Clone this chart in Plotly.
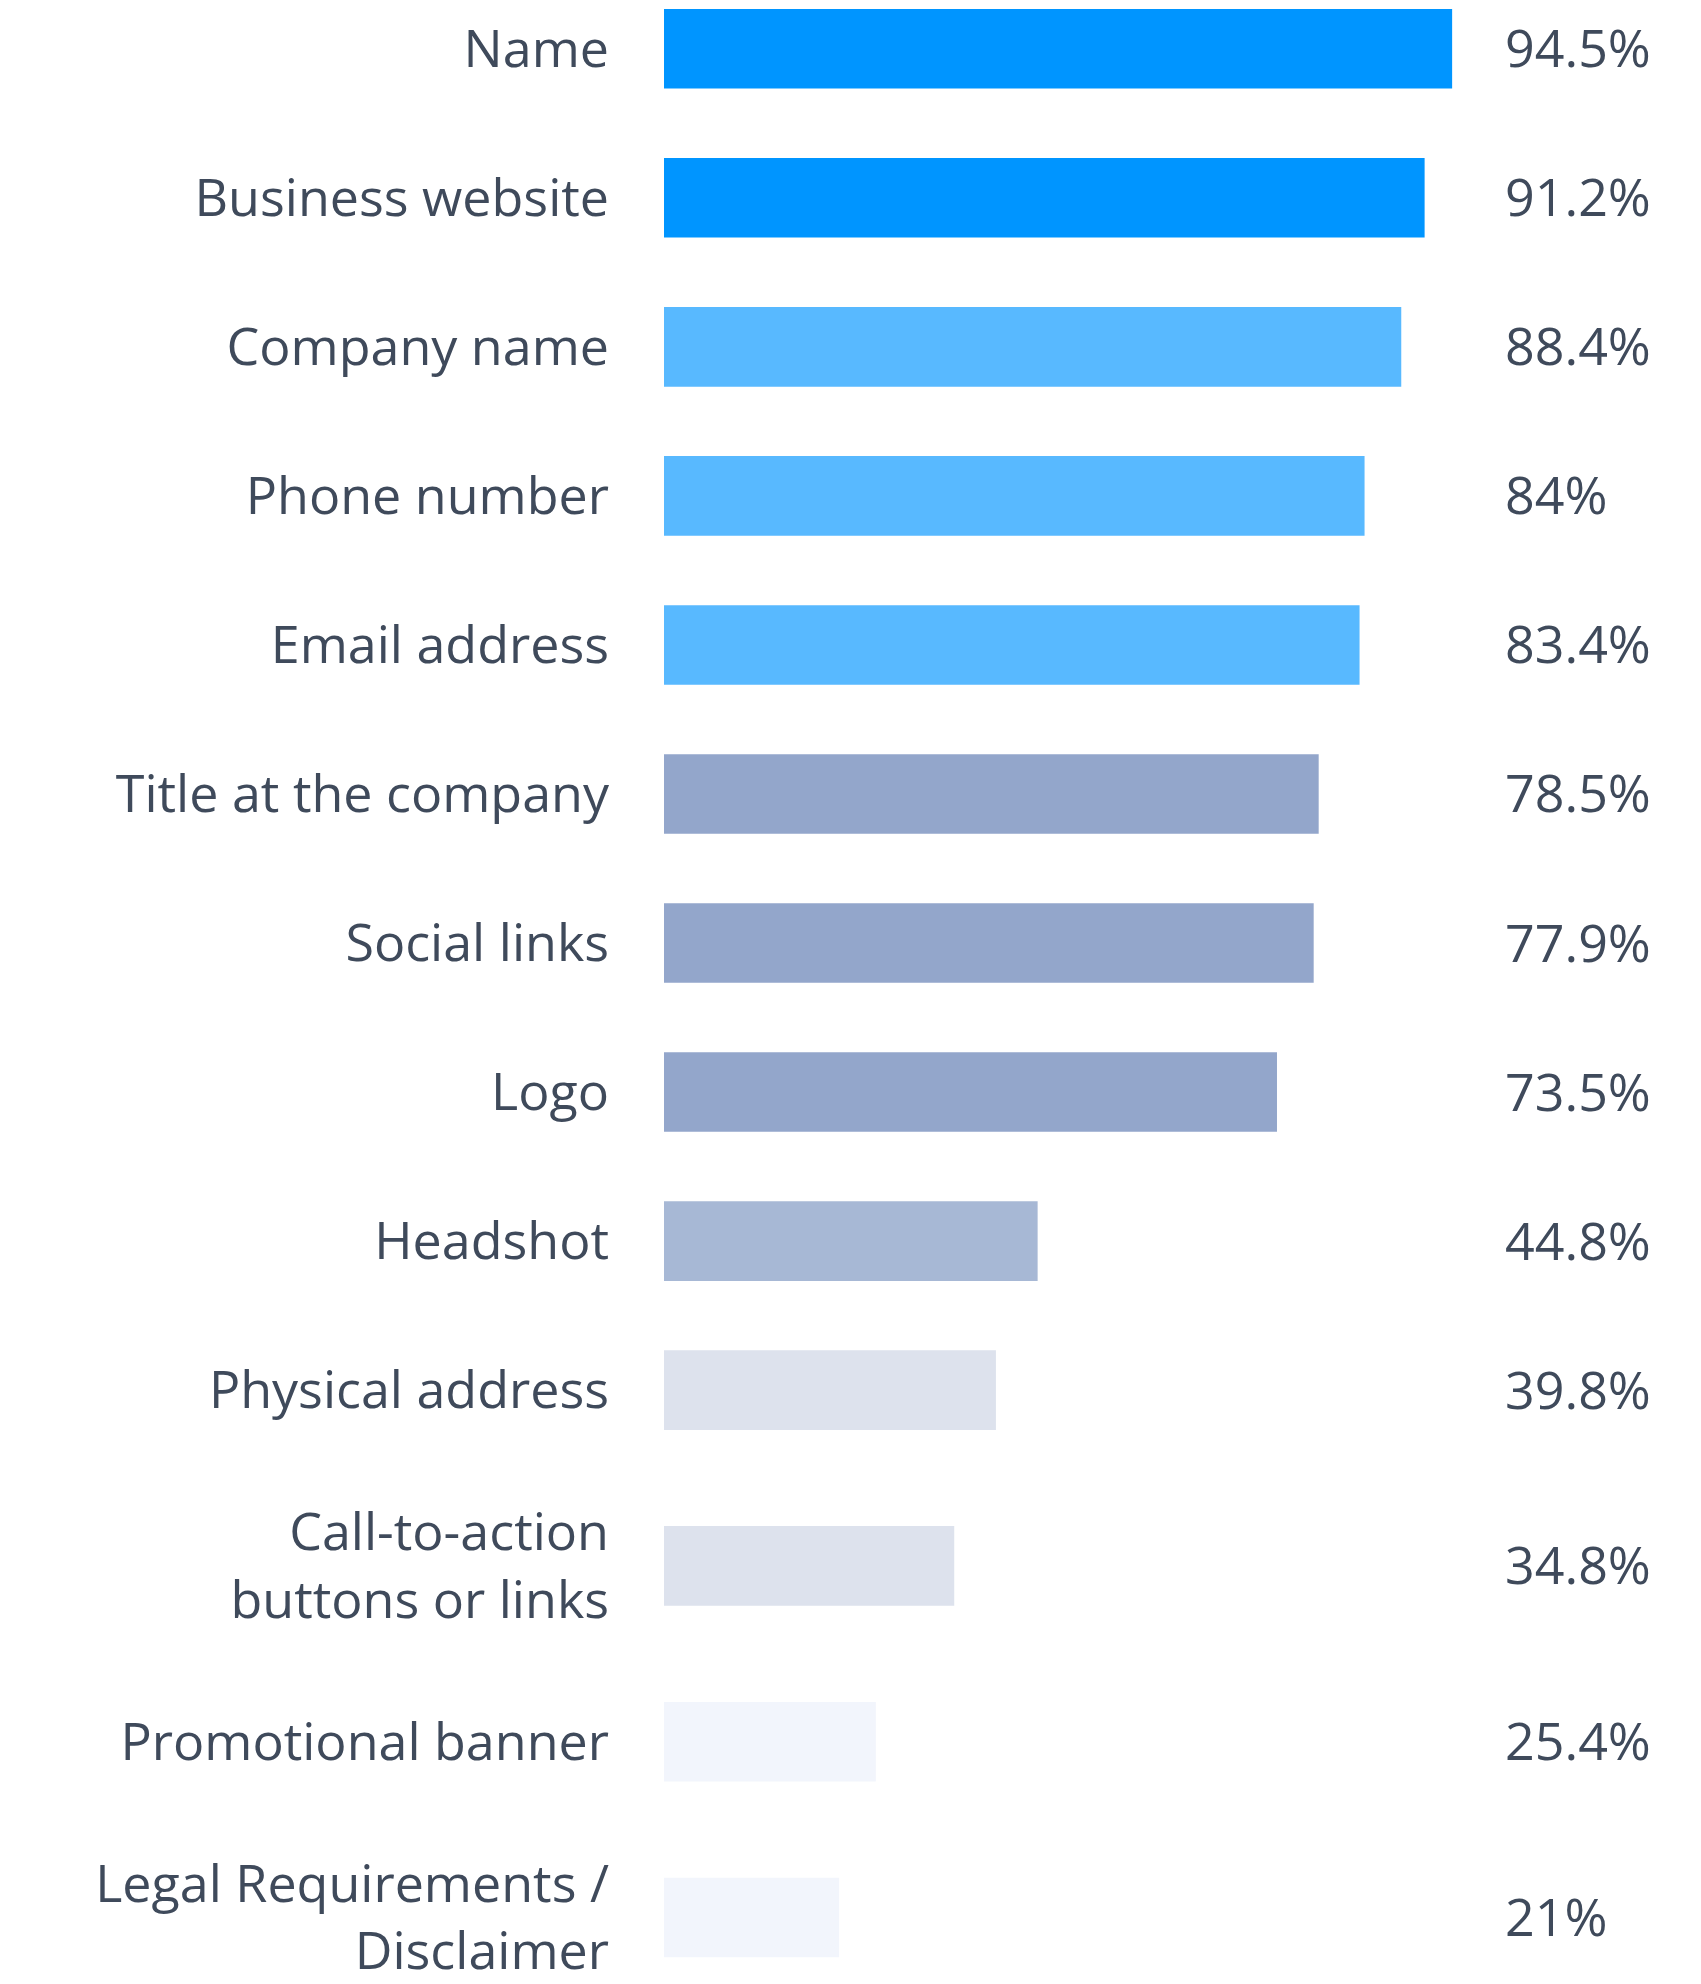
import plotly.graph_objects as go

# Survey results: what people include in an email signature
labels = [
    "Name",
    "Business website",
    "Company name",
    "Phone number",
    "Email address",
    "Title at the company",
    "Social links",
    "Logo",
    "Headshot",
    "Physical address",
    "Call-to-action<br>buttons or links",
    "Promotional banner",
    "Legal Requirements /<br>Disclaimer",
]
values = [94.5, 91.2, 88.4, 84, 83.4, 78.5, 77.9, 73.5, 44.8, 39.8, 34.8, 25.4, 21]
colors = [
    "#0095ff", "#0095ff",
    "#58b9ff", "#58b9ff", "#58b9ff",
    "#93a6cb", "#93a6cb", "#93a6cb",
    "#a7b8d5",
    "#dde2ed", "#dde2ed",
    "#f2f5fc", "#f2f5fc",
]

# Layout constants (pixels)
W, H = 1701, 1984
LEFT = 664
PLOT_W = 834
ROW_1LINE = 149.8
ROW_2LINE = 203.5
BAR_H = 80
TOP_OFFSET = 49
VALUE_X = 1503
TEXT_COLOR = "#3f4a5b"
FONT = "Open Sans"
FONT_SIZE = 52

# Row centres: two-line labels get taller rows
heights = [ROW_2LINE if "<br>" in lab else ROW_1LINE for lab in labels]
centres = []
pos = 0.0
for i, h in enumerate(heights):
    if i > 0:
        pos += heights[i - 1] / 2 + h / 2
    centres.append(pos)

fig = go.Figure(
    go.Bar(
        x=values,
        y=centres,
        orientation="h",
        width=BAR_H,
        marker=dict(color=colors, line=dict(width=0)),
        hoverinfo="skip",
    )
)

for c, v in zip(centres, values):
    fig.add_annotation(
        x=(VALUE_X - LEFT) / PLOT_W,
        xref="paper",
        y=c,
        yref="y",
        yshift=2,
        text=f"{v:g}%",
        showarrow=False,
        xanchor="left",
        yanchor="middle",
        font=dict(family=FONT, size=FONT_SIZE, color=TEXT_COLOR),
    )

fig.update_layout(
    width=W,
    height=H,
    margin=dict(l=LEFT, r=W - LEFT - PLOT_W, t=0, b=0),
    paper_bgcolor="white",
    plot_bgcolor="white",
    showlegend=False,
    xaxis=dict(range=[0, 100], visible=False, fixedrange=True),
    yaxis=dict(
        range=[H - TOP_OFFSET, -TOP_OFFSET],
        tickvals=centres,
        ticktext=labels,
        showgrid=False,
        zeroline=False,
        showline=False,
        ticks="",
        ticklabelstandoff=54,
        ticklabeloverflow="allow",
        tickfont=dict(family=FONT, size=FONT_SIZE, color=TEXT_COLOR),
        fixedrange=True,
    ),
)

fig.write_html("out.html")
